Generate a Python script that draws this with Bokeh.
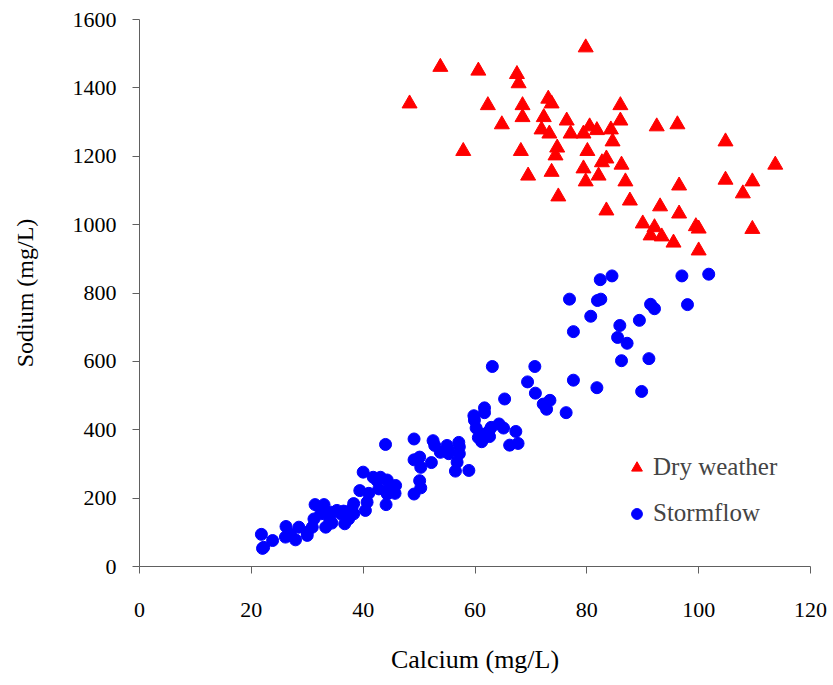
from bokeh.plotting import figure
from bokeh.models import Legend, LegendItem, Range1d
from bokeh.embed import file_html
from bokeh.resources import INLINE

# Dry weather (red triangles)
dry_ca = [48.3, 53.8, 60.6, 67.5, 67.8, 79.8, 62.3, 68.5, 68.5, 73.1, 73.7, 64.8,
          72.3, 71.9, 73.3, 76.4, 77.1, 79.4, 80.5, 81.8, 84.3, 86.0, 86.0, 84.6,
          92.5, 96.2, 104.8, 113.7, 57.9, 68.2, 74.7, 74.4, 80.1, 69.5, 73.7, 79.4,
          82.7, 83.5, 86.2, 82.1, 79.8, 86.9, 74.9, 96.5, 104.8, 109.6, 107.9, 87.7,
          83.5, 93.1, 96.5, 90.0, 92.1, 91.4, 93.4, 95.5, 99.5, 100.0, 109.6, 100.0]
dry_na = [1354, 1461, 1450, 1440, 1413, 1518, 1349, 1349, 1314, 1368, 1354, 1293,
          1314, 1278, 1266, 1304, 1266, 1266, 1287, 1276, 1278, 1349, 1304, 1243,
          1287, 1293, 1243, 1175, 1215, 1215, 1225, 1202, 1215, 1143, 1154, 1164,
          1182, 1193, 1175, 1143, 1126, 1126, 1082, 1114, 1131, 1126, 1091, 1070,
          1041, 1053, 1032, 1003, 992, 968, 965, 947, 995, 988, 987, 924]

# Stormflow (blue circles)
storm_ca = [82.4, 84.5, 97.0, 101.8, 76.9, 81.9, 82.5, 91.4, 92.1, 98.0, 80.7, 77.6,
            85.9, 89.4, 85.5, 87.2, 86.2, 91.1, 63.1, 70.7, 69.4, 77.6, 81.8, 89.8,
            70.8, 65.3, 72.2, 73.4, 72.8, 76.3, 61.7, 59.9, 60.2, 62.9, 65.1, 67.3,
            60.6, 62.6, 61.2, 66.2, 67.7, 55.2, 57.2, 61.0, 64.3, 62.5,
            21.8, 22.2, 22.0, 23.8, 26.2, 26.1, 27.9, 28.5, 27.0, 30.0, 30.0, 30.9,
            31.2, 31.4, 33.0, 33.3, 32.4, 34.2, 34.0, 35.3, 34.4, 36.7, 36.0, 36.5,
            37.4, 38.3, 38.3, 38.0, 39.4, 40.4, 40.7, 40.0, 41.0, 41.8, 42.5, 43.1,
            44.3, 42.8, 44.6, 44.3, 45.8, 45.7, 44.0, 44.1, 49.1, 49.1, 49.1, 50.1,
            50.3, 50.1, 50.3, 52.5, 52.8, 52.2, 53.8, 55.0, 55.3, 57.1, 57.2, 56.8,
            56.5, 58.9, 59.8, 61.7]
storm_na = [839, 850, 850, 855, 782, 778, 782, 767, 754, 766, 732, 687,
            705, 720, 670, 653, 602, 608, 585, 585, 540, 545, 523, 512,
            507, 490, 475, 486, 460, 450, 450, 428, 405, 407, 405, 395,
            377, 380, 365, 355, 360, 340, 350, 388, 417, 396,
            94, 56, 53, 76, 117, 86, 78, 115, 96, 100, 91, 115,
            139, 181, 181, 115, 154, 159, 139, 164, 127, 125, 154, 162,
            139, 154, 184, 169, 222, 164, 188, 276, 214, 261, 251, 261,
            253, 227, 227, 212, 237, 214, 357, 181, 373, 212, 312, 320,
            290, 251, 230, 368, 354, 304, 334, 354, 330, 363, 330, 305,
            279, 281, 441, 464]

x_ticks = [0, 20, 40, 60, 80, 100, 120]
y_ticks = [0, 200, 400, 600, 800, 1000, 1200, 1400, 1600]

FONT = "Liberation Serif"

p = figure(width=833, height=685, output_backend="svg", toolbar_location=None,
           x_range=Range1d(0, 120), y_range=Range1d(0, 1600),
           min_border_left=139, min_border_right=23, min_border_top=19,
           min_border_bottom=119)
p.outline_line_color = None
p.grid.visible = False

r_dry = p.scatter(dry_ca, dry_na, marker="triangle", size=15, color="#ff0000")
r_storm = p.scatter(storm_ca, storm_na, marker="circle", size=12, color="#0000ff")

for ax in (p.xaxis[0], p.yaxis[0]):
    ax.axis_line_color = "#606060"
    ax.major_tick_line_color = "#606060"
    ax.major_tick_in = 0
    ax.major_tick_out = 7
    ax.minor_tick_line_color = None
    ax.major_label_text_font = FONT
    ax.major_label_text_font_size = "22px"
    ax.major_label_text_color = "#000000"
    ax.axis_label_text_font = FONT
    ax.axis_label_text_font_style = "normal"
    ax.axis_label_text_color = "#000000"

p.xaxis.axis_label_text_font_size = "26px"
p.yaxis.axis_label_text_font_size = "24px"
p.xaxis.ticker = x_ticks
p.yaxis.ticker = y_ticks
p.xaxis.axis_label = "Calcium (mg/L)"
p.yaxis.axis_label = "Sodium (mg/L)"
p.xaxis.major_label_standoff = 29
p.yaxis.major_label_standoff = 16
p.xaxis.axis_label_standoff = 25
p.yaxis.axis_label_standoff = 32

legend = Legend(items=[LegendItem(label="Dry weather", renderers=[r_dry]),
                       LegendItem(label="Stormflow", renderers=[r_storm])],
                location=(484, 39), glyph_width=27, glyph_height=27,
                label_height=27, spacing=18, padding=0, margin=0,
                label_standoff=3, border_line_color=None,
                background_fill_alpha=0,
                label_text_font=FONT, label_text_font_size="25px")
p.add_layout(legend, "center")

open("out.html", "w").write(file_html(p, INLINE))
